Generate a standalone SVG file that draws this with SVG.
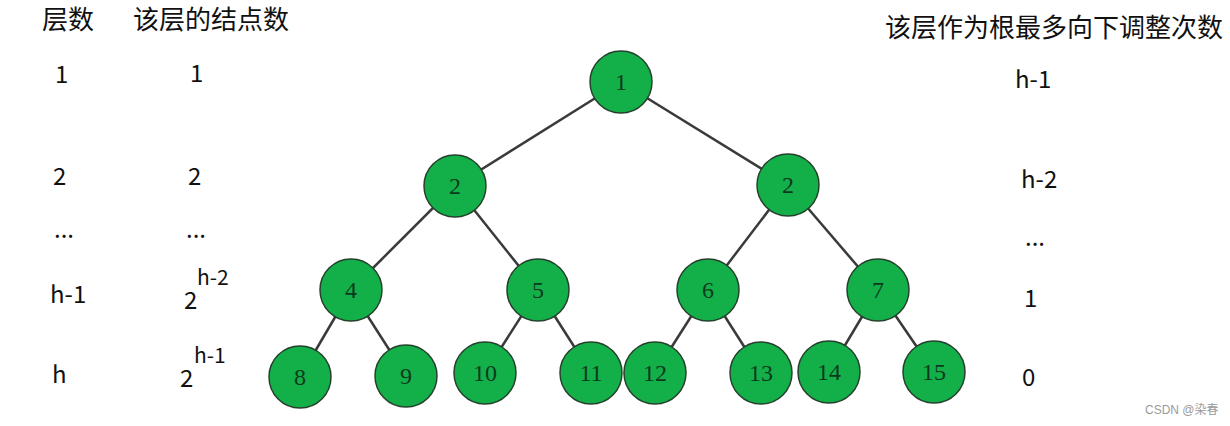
<svg xmlns="http://www.w3.org/2000/svg" width="1230" height="426" viewBox="0 0 1230 426">
<style>
.t{font-family:"Noto Sans CJK SC","Noto Sans",sans-serif;font-size:24px;fill:#111}
.h{font-family:"Noto Sans CJK SC","Noto Sans",sans-serif;font-size:26px;fill:#111}
.s{font-family:"Noto Sans CJK SC","Noto Sans",sans-serif;font-size:21px;fill:#111}
.n circle{fill:#13b04a;stroke:#25402c;stroke-width:1.5}
.n text{font-family:"Liberation Serif",serif;font-size:24px;fill:#0d3a1c;text-anchor:middle}
#edges line{stroke:#3a3a3a;stroke-width:2.5}
.w{font-family:"Liberation Sans","Noto Sans CJK SC",sans-serif;font-size:12px;fill:#9a9a9a}
</style>
<rect width="1230" height="426" fill="#fff"/>
<g id="labels">
<text class="h" x="42" y="29">层数</text>
<text class="h" x="133" y="29">该层的结点数</text>
<text class="h" x="885" y="37">该层作为根最多向下调整次数</text>
<text class="t" x="55" y="83">1</text>
<text class="t" x="190" y="82">1</text>
<text class="t" x="53" y="185">2</text>
<text class="t" x="188" y="185">2</text>
<text class="t" x="54" y="238">...</text>
<text class="t" x="186" y="238">...</text>
<text class="t" x="50" y="303">h-1</text>
<text class="t" x="184" y="309">2</text>
<text class="s" x="197" y="285">h-2</text>
<text class="t" x="52" y="383">h</text>
<text class="t" x="180" y="387">2</text>
<text class="s" x="194" y="363">h-1</text>
<text class="t" x="1015" y="88">h-1</text>
<text class="t" x="1021" y="188">h-2</text>
<text class="t" x="1025" y="246">...</text>
<text class="t" x="1024" y="307">1</text>
<text class="t" x="1022" y="386">0</text>
</g>
<g id="edges">
<line x1="621" y1="82" x2="455" y2="186"/>
<line x1="621" y1="82" x2="788" y2="185"/>
<line x1="455" y1="186" x2="351" y2="290"/>
<line x1="455" y1="186" x2="538" y2="290"/>
<line x1="788" y1="185" x2="708" y2="290"/>
<line x1="788" y1="185" x2="878" y2="290"/>
<line x1="351" y1="290" x2="300" y2="377"/>
<line x1="351" y1="290" x2="406" y2="376"/>
<line x1="538" y1="290" x2="485" y2="373"/>
<line x1="538" y1="290" x2="591" y2="373"/>
<line x1="708" y1="290" x2="655" y2="373"/>
<line x1="708" y1="290" x2="761" y2="373"/>
<line x1="878" y1="290" x2="829" y2="372"/>
<line x1="878" y1="290" x2="934" y2="372"/>
</g>
<g id="n1" class="n"><circle cx="621" cy="82" r="31"/><text x="621" y="90">1</text></g>
<g id="n2a" class="n"><circle cx="455" cy="186" r="31"/><text x="455" y="194">2</text></g>
<g id="n2b" class="n"><circle cx="788" cy="185" r="31"/><text x="788" y="193">2</text></g>
<g id="n4" class="n"><circle cx="351" cy="290" r="31"/><text x="351" y="298">4</text></g>
<g id="n5" class="n"><circle cx="538" cy="290" r="31"/><text x="538" y="298">5</text></g>
<g id="n6" class="n"><circle cx="708" cy="290" r="31"/><text x="708" y="298">6</text></g>
<g id="n7" class="n"><circle cx="878" cy="290" r="31"/><text x="878" y="298">7</text></g>
<g id="n8" class="n"><circle cx="300" cy="377" r="31"/><text x="300" y="385">8</text></g>
<g id="n9" class="n"><circle cx="406" cy="376" r="31"/><text x="406" y="384">9</text></g>
<g id="n10" class="n"><circle cx="485" cy="373" r="31"/><text x="485" y="381">10</text></g>
<g id="n11" class="n"><circle cx="591" cy="373" r="31"/><text x="591" y="381">11</text></g>
<g id="n12" class="n"><circle cx="655" cy="373" r="31"/><text x="655" y="381">12</text></g>
<g id="n13" class="n"><circle cx="761" cy="373" r="31"/><text x="761" y="381">13</text></g>
<g id="n14" class="n"><circle cx="829" cy="372" r="31"/><text x="829" y="380">14</text></g>
<g id="n15" class="n"><circle cx="934" cy="372" r="31"/><text x="934" y="380">15</text></g>
<text class="w" x="1145" y="414">CSDN @染春</text>
</svg>
